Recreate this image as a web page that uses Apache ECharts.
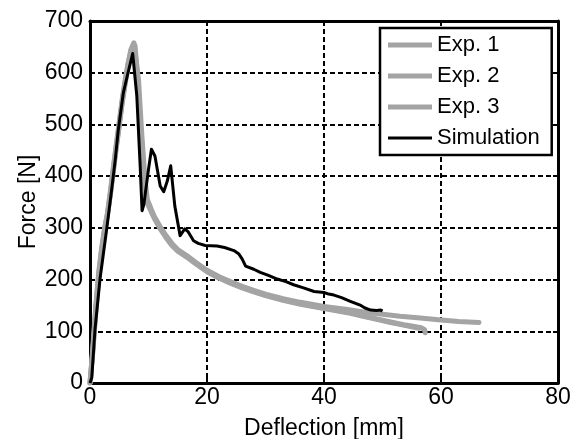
<!DOCTYPE html>
<html>
<head>
<meta charset="utf-8">
<script src="https://cdn.jsdelivr.net/npm/echarts@6/dist/echarts.min.js"></script>
<style>
html,body{margin:0;padding:0;background:#fff;}
#c{width:573px;height:439px;}
</style>
</head>
<body>
<div id="c"></div>
<script>
// Tick values
var xTicks = [0, 20, 40, 60, 80];
var yTicks = [0, 100, 200, 300, 400, 500, 600, 700];

// Exp. 1 (deflection mm, force N)
var exp1X = [0, 0.5, 1, 1.5, 2, 2.5, 3, 3.5, 4, 4.5, 5, 5.5, 6, 6.5, 7, 7.5, 7.8, 8.3, 8.8, 9.4, 9.8, 10.5, 11, 12, 13, 14, 15, 16.6, 18, 20, 22, 24, 26, 28, 30, 33, 36, 40, 44, 47, 50, 53, 56, 60, 63, 66.5];
var exp1Y = [0, 70, 150, 215, 262, 300, 330, 372, 418, 462, 505, 548, 585, 618, 645, 658, 655, 586, 490, 393, 355, 335, 322, 302, 285, 270, 258, 246, 234, 218, 206, 196, 187, 179, 172, 163, 156, 148, 142, 137, 133, 129, 126, 122, 119, 117];

// Exp. 2
var exp2X = [0, 0.5, 1, 1.5, 2, 2.5, 3, 3.5, 4, 4.5, 5, 5.5, 6, 6.5, 7, 7.5, 7.7, 8.2, 8.7, 9.3, 9.7, 10.5, 11, 12, 13, 14, 15, 16.6, 18, 20, 22, 24, 26, 28, 30, 33, 36, 40, 44, 46.3, 49, 51.4, 54, 56.6, 57.2, 57.3];
var exp2Y = [0, 65, 145, 210, 258, 296, 328, 368, 414, 458, 500, 545, 582, 616, 643, 656, 652, 582, 485, 390, 352, 332, 320, 300, 283, 268, 256, 244, 232, 216, 204, 194, 185, 177, 170, 161, 153, 145, 137, 131, 124, 118, 112, 107, 103, 97];

// Exp. 3
var exp3X = [0, 0.5, 1, 1.5, 2, 2.5, 3, 3.5, 4, 4.5, 5, 5.5, 6, 6.5, 7, 7.4, 7.7, 8.2, 8.7, 9.3, 9.7, 10.5, 11, 12, 13, 14, 15, 16.6, 18, 20, 22, 24, 26, 28, 30, 33, 36, 40, 44, 46.3, 49, 51.4, 54, 56.2];
var exp3Y = [0, 62, 140, 205, 255, 293, 325, 365, 410, 455, 497, 540, 578, 612, 640, 652, 650, 580, 482, 388, 350, 330, 318, 298, 281, 266, 255, 243, 231, 215, 203, 193, 184, 176, 169, 160, 152, 144, 136, 130, 123, 117, 111, 106];

// Simulation
var simX = [0, 0.3, 0.85, 1.7, 2.3, 2.86, 3.7, 4.3, 4.84, 5.7, 6.5, 7.3, 8, 8.55, 8.9, 9.2, 10, 10.5, 11.1, 12, 12.6, 13.2, 13.8, 14.5, 15.4, 16.2, 16.8, 17.7, 18.5, 19.7, 21.7, 23, 24.6, 25.4, 26, 26.6, 28, 29.1, 30.5, 32, 33.5, 34.8, 36.5, 38.3, 40, 40.8, 41.7, 43, 44.5, 46.3, 47, 48, 49, 49.7, 50];
var simY = [0, 10, 103, 200, 251, 298, 374, 430, 490, 561, 600, 637, 555, 426, 333, 345, 413, 452, 439, 381, 370, 390, 420, 342, 285, 298, 292, 275, 270, 266, 265, 262, 256, 250, 240, 226, 220, 214, 208, 201, 196, 190, 184, 177, 175, 172, 170, 165, 158, 150, 145, 141, 140, 141, 139];

function pairs(xs, ys) {
  var out = [];
  for (var i = 0; i < xs.length; i++) out.push([xs[i], ys[i]]);
  return out;
}

var FONT = 'Liberation Sans';
var chart = echarts.init(document.getElementById('c'), null, {renderer: 'canvas'});

var grayColor = '#a4a4a4';
// legend line icons (44 x 14 box, bar in the middle)
var grayIcon = 'path://M0,0L0.01,0L0.01,0.01ZM0,4.5L44,4.5L44,9.5L0,9.5ZM44,14L43.99,14L43.99,13.99Z';
var blackIcon = 'path://M0,0L0.01,0L0.01,0.01ZM0,5.5L44,5.5L44,8.5L0,8.5ZM44,14L43.99,14L43.99,13.99Z';

function grayLine(name, xs, ys) {
  return {
    name: name, type: 'line', data: pairs(xs, ys),
    showSymbol: false, symbol: 'none', smooth: false,
    lineStyle: {color: grayColor, width: 5, cap: 'round', join: 'round'},
    itemStyle: {color: grayColor},
    z: 2, animation: false
  };
}

var gridLine = {show: true, lineStyle: {color: '#000', width: 2, type: [5, 3]}};

chart.setOption({
  backgroundColor: '#fff',
  animation: false,
  textStyle: {fontFamily: FONT, color: '#000'},
  grid: {left: 90, right: 15, top: 21, bottom: 56, containLabel: false, outerBoundsMode: 'none'},
  xAxis: [{
    type: 'value', min: xTicks[0], max: xTicks[xTicks.length - 1], interval: 20,
    position: 'bottom',
    name: 'Deflection [mm]', nameLocation: 'middle', nameGap: 34, nameMoveOverlap: false,
    nameTextStyle: {fontFamily: FONT, fontSize: 23, color: '#000'},
    axisLine: {show: true, onZero: false, lineStyle: {color: '#000', width: 3}},
    axisTick: {show: true, inside: true, length: 5, lineStyle: {color: '#000', width: 2}},
    axisLabel: {fontFamily: FONT, fontSize: 23, color: '#000', margin: 3},
    splitLine: gridLine
  }, {
    type: 'value', min: xTicks[0], max: xTicks[xTicks.length - 1], interval: 20,
    position: 'top',
    axisLine: {show: true, onZero: false, lineStyle: {color: '#000', width: 3}},
    axisTick: {show: true, inside: true, length: 5, lineStyle: {color: '#000', width: 2}},
    axisLabel: {show: false},
    splitLine: {show: false}
  }],
  yAxis: [{
    type: 'value', min: yTicks[0], max: yTicks[yTicks.length - 1], interval: 100,
    position: 'left',
    name: 'Force [N]', nameLocation: 'middle', nameGap: 50, nameMoveOverlap: false,
    nameTextStyle: {fontFamily: FONT, fontSize: 23, color: '#000'},
    axisLine: {show: true, onZero: false, lineStyle: {color: '#000', width: 3}},
    axisTick: {show: true, inside: true, length: 5, lineStyle: {color: '#000', width: 2}},
    axisLabel: {fontFamily: FONT, fontSize: 23, color: '#000', margin: 7},
    splitLine: gridLine
  }, {
    type: 'value', min: yTicks[0], max: yTicks[yTicks.length - 1], interval: 100,
    position: 'right',
    axisLine: {show: true, onZero: false, lineStyle: {color: '#000', width: 3}},
    axisTick: {show: true, inside: true, length: 5, lineStyle: {color: '#000', width: 2}},
    axisLabel: {show: false},
    splitLine: {show: false}
  }],
  legend: {
    orient: 'vertical', left: 380, top: 28,
    padding: [6, 12, 6, 8],
    itemGap: 9, itemWidth: 44, itemHeight: 14,
    backgroundColor: '#fff', borderColor: '#000', borderWidth: 2.5,
    textStyle: {fontFamily: FONT, fontSize: 22, color: '#000'},
    data: [
      {name: 'Exp. 1', icon: grayIcon},
      {name: 'Exp. 2', icon: grayIcon},
      {name: 'Exp. 3', icon: grayIcon},
      {name: 'Simulation', icon: blackIcon}
    ]
  },
  series: [
    grayLine('Exp. 1', exp1X, exp1Y),
    grayLine('Exp. 2', exp2X, exp2Y),
    grayLine('Exp. 3', exp3X, exp3Y),
    {
      name: 'Simulation', type: 'line', data: pairs(simX, simY),
      showSymbol: false, symbol: 'none',
      lineStyle: {color: '#000', width: 3, join: 'round'},
      itemStyle: {color: '#000'},
      z: 3, animation: false
    }
  ]
});
</script>
</body>
</html>
